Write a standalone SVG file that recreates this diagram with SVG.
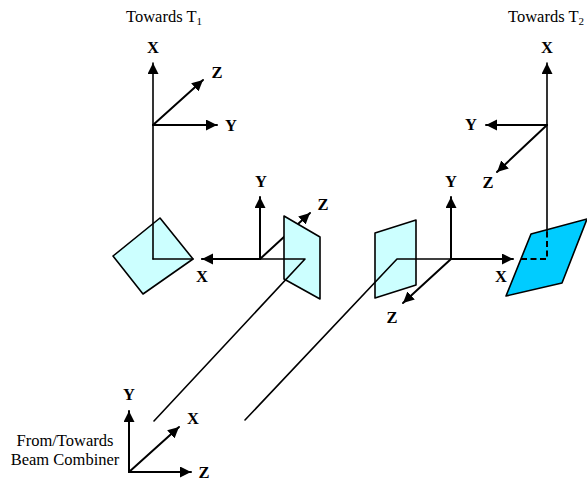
<svg xmlns="http://www.w3.org/2000/svg" width="587" height="483" viewBox="0 0 587 483">
<style>
.l{fill:none;stroke:#000;stroke-width:1.6;stroke-linecap:round;stroke-linejoin:round}
.a{fill:none;stroke:#000;stroke-width:2;stroke-linecap:round}
.d{fill:none;stroke:#000;stroke-width:2;stroke-dasharray:6 3.5}
.m{stroke:#000;stroke-width:1.6;stroke-linejoin:round}
.pale{fill:#ccffff}
.blue{fill:#00ccff}
.ax{font-family:"Liberation Serif",serif;font-weight:bold;font-size:16.5px;text-anchor:middle;fill:#000}
.t{font-family:"Liberation Serif",serif;font-size:16.5px;fill:#000}
.c{text-anchor:middle}
</style>
<defs>
<marker id="h" markerUnits="userSpaceOnUse" markerWidth="12" markerHeight="12" refX="11" refY="5.5" orient="auto"><path d="M0 0L11 5.5L0 11Z" fill="#000"/></marker>
</defs>
<g id="connectors-back">
<path class="a" marker-end="url(#h)" d="M260 259L310 213"/>
</g>
<g id="mirror-t1"><path class="m pale" d="M160 218L193 259L143 294L113 256Z"/></g>
<g id="panel-left"><path class="m pale" d="M284 216L320 237L320 299L284 279Z"/></g>
<g id="panel-right"><path class="m pale" d="M375 233L416 220L416 285L375 298Z"/></g>
<g id="mirror-t2"><path class="m blue" d="M531 234L587 219L562 283L506 296Z"/></g>
<g id="connectors">
<path class="l" marker-end="url(#h)" d="M153 259V63"/>
<path class="l" d="M153 259H193"/>
<path class="l" d="M154 421L305 259H202"/>
<path class="l" d="M245 420L397 259H451"/>
<path class="l" marker-end="url(#h)" d="M547 232V63"/>
<path class="d" d="M521 259H547V232"/>
<path class="a" marker-end="url(#h)" d="M260 259H202"/>
<path class="a" marker-end="url(#h)" d="M260 259V197"/>
<path class="a" marker-end="url(#h)" d="M451 259V197"/>
<path class="a" marker-end="url(#h)" d="M451 259H513"/>
<path class="a" marker-end="url(#h)" d="M451 259L403 303"/>
<path class="a" marker-end="url(#h)" d="M153 125H217"/>
<path class="a" marker-end="url(#h)" d="M153 125L203 80"/>
<path class="a" marker-end="url(#h)" d="M547 125H486"/>
<path class="a" marker-end="url(#h)" d="M547 125L497 172"/>
<path class="a" marker-end="url(#h)" d="M129 472V411"/>
<path class="a" marker-end="url(#h)" d="M129 472L179 427"/>
<path class="a" marker-end="url(#h)" d="M129 472H191"/>
</g>
<g id="labels">
<text class="t" x="126" y="22">Towards T<tspan font-size="11" dy="3">1</tspan></text>
<text class="t" x="508" y="22">Towards T<tspan font-size="11" dy="3">2</tspan></text>
<text class="t c" x="65" y="446">From/Towards</text>
<text class="t c" x="65" y="465">Beam Combiner</text>
<text class="ax" x="153" y="53">X</text>
<text class="ax" x="217" y="78">Z</text>
<text class="ax" x="231" y="131">Y</text>
<text class="ax" x="547" y="53">X</text>
<text class="ax" x="471" y="130">Y</text>
<text class="ax" x="488" y="188">Z</text>
<text class="ax" x="261" y="187">Y</text>
<text class="ax" x="323" y="210">Z</text>
<text class="ax" x="202" y="282">X</text>
<text class="ax" x="451" y="187">Y</text>
<text class="ax" x="501" y="282">X</text>
<text class="ax" x="392" y="323">Z</text>
<text class="ax" x="129" y="400">Y</text>
<text class="ax" x="193" y="424">X</text>
<text class="ax" x="204" y="478">Z</text>
</g>
</svg>
